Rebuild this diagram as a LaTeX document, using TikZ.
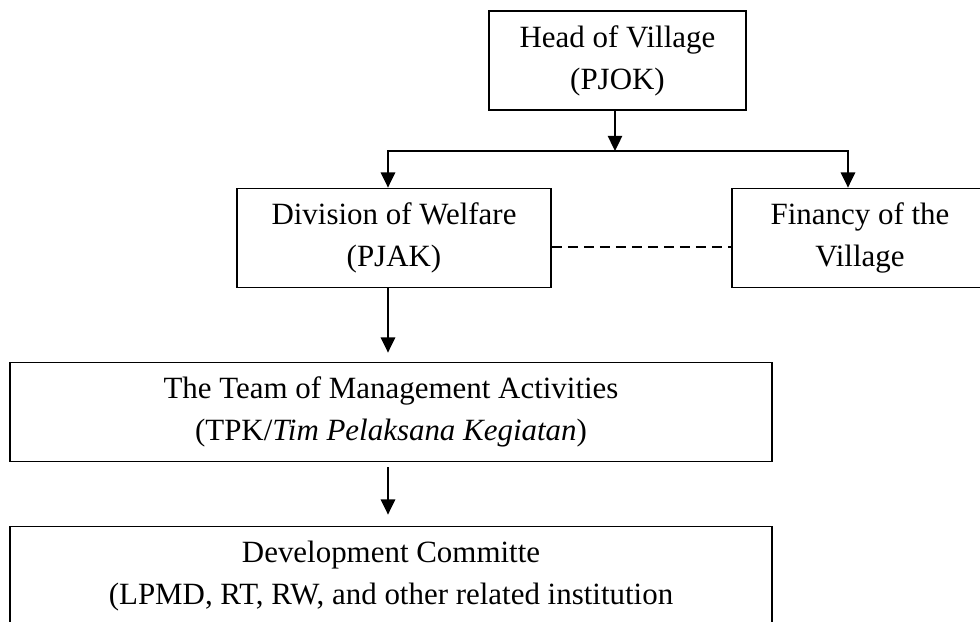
\documentclass[tikz,border=0pt]{standalone}
\usepackage{fontspec}
\setmainfont{Liberation Serif}
\usetikzlibrary{arrows.meta, positioning}

\tikzset{
    unit/.style={draw, rectangle, line width=1.1pt, align=center, font=\fontsize{22}{30}\selectfont, minimum height=2.48cm, execute at begin node={\rule{0pt}{1cm}}},
    flow/.style={-{Triangle[length=0.38cm, width=0.36cm]}, line width=1.2pt}
}

\begin{document}
\begin{tikzpicture}[x=0.025cm, y=-0.025cm]
    \useasboundingbox (0,0) rectangle (980,622);

    % Units
    \node[unit, minimum width=6.43cm] (head) at (617.5, 60.5) {Head of Village\\(PJOK)};
    \node[unit, minimum width=7.85cm] (welfare) at (394, 238) {Division of Welfare\\(PJAK)};
    \node[unit, minimum width=6.4cm] (finance) at (860, 238) {Financy of the\\Village};
    \node[unit, minimum width=19.05cm] (team) at (391, 412) {The Team of Management Activities\\(TPK/\textit{Tim Pelaksana Kegiatan})};
    \node[unit, minimum width=19.05cm] (committee) at (391, 576) {Development Committe\\(LPMD, RT, RW, and other related institution};

    % Branch point
    \coordinate (split) at (615, 151);

    % Connections
    \draw[flow] (head.south -| split) -- (split);
    \draw[flow] (split) -| ([xshift=-0.15cm]welfare.north);
    \draw[flow] (split) -| ([xshift=-0.3cm]finance.north);
    \draw[line width=1.2pt, dash pattern=on 0.25cm off 0.15cm] ([yshift=-0.225cm]welfare.east) -- ([yshift=-0.225cm]finance.west);
    \draw[flow, shorten >=0.225cm] ([xshift=-0.15cm]welfare.south) -- ([xshift=-0.15cm]welfare.south |- team.north);
    \draw[flow, shorten <=0.125cm, shorten >=0.275cm] ([xshift=-0.075cm]team.south) -- ([xshift=-0.075cm]committee.north);
\end{tikzpicture}
\end{document}
